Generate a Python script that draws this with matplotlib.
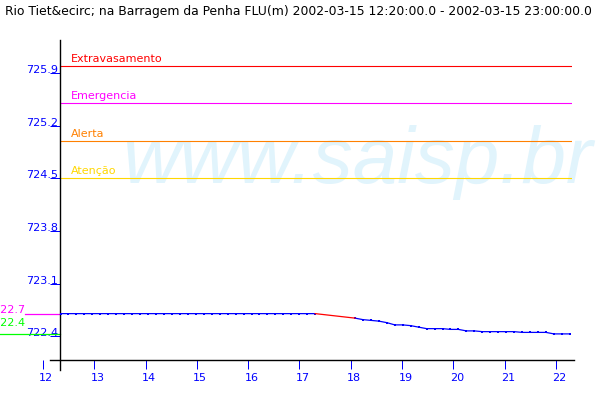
import numpy as np
import matplotlib
matplotlib.use("Agg")
import matplotlib.pyplot as plt
import matplotlib.transforms as mtransforms

# ---------------- data ----------------
title = ("Rio Tiet&ecirc; na Barragem da Penha FLU(m) "
         "2002-03-15 12:20:00.0 - 2002-03-15 23:00:00.0")
start_hour = 12 + 20 / 60          # 12:20
step_minutes = 10
nan = np.nan
levels = [
    722.70, 722.70, 722.70, 722.70, 722.70, 722.70, 722.70, 722.70, 722.70, 722.70,
    722.70, 722.70, 722.70, 722.70, 722.70, 722.70, 722.70, 722.70, 722.70, 722.70,
    722.70, 722.70, 722.70, 722.70, 722.70, 722.70, 722.70, 722.70, 722.70, 722.70,
    722.70, 722.70, 722.70, nan, nan, nan, nan,
    722.64, 722.62, 722.61, 722.60, 722.58, 722.55, 722.55, 722.54, 722.52,
    722.50, 722.50, 722.50, 722.49, 722.49, 722.47, 722.47,
    722.46, 722.46, 722.46, 722.46, 722.46,
    722.45, 722.45, 722.45, 722.45,
    722.43, 722.43, 722.43,
]
threshold_names = ["Extravasamento", "Emergencia", "Alerta", "Atenção"]
threshold_values = [726.0, 725.5, 725.0, 724.5]
threshold_colors = ["#ff0000", "#ff00ff", "#ff8000", "#ffd700"]
ytick_values = [722.4, 723.1, 723.8, 724.5, 725.2, 725.9]
ytick_labels = ["722.4", "723.1", "723.8", "724.5", "725.2", "725.9"]
xtick_hours = [12, 13, 14, 15, 16, 17, 18, 19, 20, 21, 22]
xtick_labels = ["12", "13", "14", "15", "16", "17", "18", "19", "20", "21", "22"]
watermark = "www.saisp.br"

# ---------------- layout ----------------
W, H = 600, 400
plt.rcParams["font.family"] = ["DejaVu Sans"]
fig = plt.figure(figsize=(W / 100, H / 100), dpi=100, facecolor="white")

levels = np.array(levels, dtype=float)
times = start_hour + np.arange(len(levels)) * step_minutes / 60.0

PXH = 47.75          # pixels per hour of data
X0PX = 60.5          # pixel of first sample
def t_of(px):
    return start_hour + (px - X0PX) / PXH

PXM = 75.1           # pixels per metre
def v_of(py):
    return 725.9 - (py - 73.3) / PXM

def fx(px):
    return px / W
def fy(py):
    return 1 - py / H

# main data axes (spans 60..572 px horizontally, 40..370 px vertically)
ax = fig.add_axes([fx(60), fy(370), (572 - 60) / W, (370 - 40) / H])
ax.patch.set_visible(False)
ax.set_xlim(t_of(60), t_of(572))
ax.set_ylim(v_of(370), v_of(40))
for s in ["top", "right", "bottom"]:
    ax.spines[s].set_visible(False)
ax.spines["left"].set_color("black")
ax.spines["left"].set_linewidth(1.0)
ax.set_xticks([])
ax.set_yticks(ytick_values)
ax.set_yticklabels(ytick_labels)
ax.tick_params(axis="y", direction="out", length=7.2, width=0.72,
               colors="#0000ff", labelsize=8, pad=-5.8)
for lab in ax.get_yticklabels():
    lab.set_verticalalignment("baseline")

# thresholds
for name, val, col in zip(threshold_names, threshold_values, threshold_colors):
    ax.axhline(val, color=col, lw=0.8, zorder=2)
    ax.annotate(name, xy=(0, val), xycoords=ax.get_yaxis_transform(),
                xytext=(10.5, 4), textcoords="offset pixels",
                ha="left", va="baseline", fontsize=8, color=col, zorder=3)

# data series (blue) and interpolated gap (red)
ax.plot(times, levels, color="#0000ff", lw=0.9, marker="s", markersize=1.6,
        markeredgewidth=0, zorder=4)
valid = ~np.isnan(levels)
gap = np.where(~valid)[0]
if len(gap):
    a, b = gap[0] - 1, gap[-1] + 1
    ax.plot([times[a], times[b]], [levels[a], levels[b]], color="#ff0000",
            lw=0.9, zorder=4)

# max / min reference marks on the left
vmax, vmin = np.nanmax(levels), np.nanmin(levels)
bt = ax.get_yaxis_transform()
ax.plot([(25 - 60) / 512, 0], [vmax, vmax], transform=bt, color="#ff00ff",
        lw=0.9, clip_on=False)
ax.plot([(0 - 60) / 512, 0], [vmin, vmin], transform=bt, color="#00ff00",
        lw=0.9, clip_on=False)
ax.annotate(f"{vmax:.1f}", xy=((25 - 60) / 512, vmax), xycoords=bt,
            xytext=(0, 1), textcoords="offset pixels", ha="right",
            va="baseline", fontsize=8, color="#ff00ff", annotation_clip=False)
ax.annotate(f"{vmin:.1f}", xy=((25 - 60) / 512, vmin), xycoords=bt,
            xytext=(0, 7.5), textcoords="offset pixels", ha="right",
            va="baseline", fontsize=8, color="#00ff00", annotation_clip=False)

# x axis (hour labels axis)
ax2 = fig.add_axes([fx(40), fy(360), (580 - 40) / W, (360 - 40) / H])
ax2.patch.set_visible(False)
HPX = 51.3
def h_of(px):
    return 12 + (px - 42.9) / HPX
ax2.set_xlim(h_of(40), h_of(580))
for s in ["top", "right", "left"]:
    ax2.spines[s].set_visible(False)
ax2.spines["bottom"].set_bounds(h_of(50), h_of(574))
ax2.spines["bottom"].set_linewidth(1.0)
ax2.set_yticks([])
ax2.set_xticks(xtick_hours)
ax2.set_xticklabels(xtick_labels)
ax2.tick_params(axis="x", direction="out", length=6.5, width=0.72,
                colors="#0000ff", labelsize=8, pad=3.0)
offset = mtransforms.ScaledTranslation(3.4 / 100, 0, fig.dpi_scale_trans)
for lab in ax2.get_xticklabels():
    lab.set_transform(lab.get_transform() + offset)

# watermark and title
fig.text(fx(122), fy(183), watermark, family="Liberation Sans", style="italic",
         fontsize=57.5, color="#e1f4fc", ha="left", va="baseline", zorder=-5)
fig.text(fx(5), fy(15), title, fontsize=8.9, color="black", ha="left",
         va="baseline")

fig.savefig("out.png", dpi=100, facecolor="white")
